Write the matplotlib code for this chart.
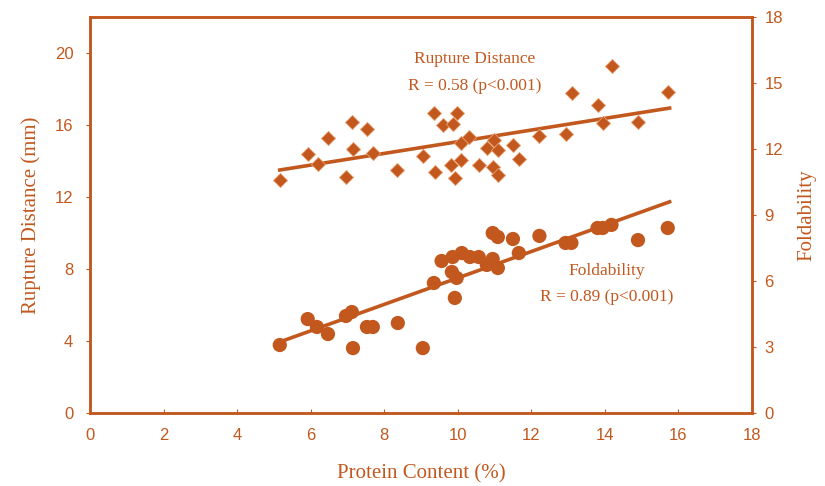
import numpy as np
import matplotlib
matplotlib.use("Agg")
import matplotlib.pyplot as plt

# colour used throughout the figure
clr = "#C2581E"

# ---------------- data ----------------
# Rupture distance (mm), left axis, diamonds
rd_protein = [5.16, 5.92, 6.20, 6.47, 6.96, 7.12, 7.15, 7.53, 7.69, 8.34,
              9.05, 9.35, 9.38, 9.59, 9.86, 9.97, 9.81, 9.92, 10.10, 10.30,
              10.10, 10.57, 10.79, 10.98, 11.09, 10.95, 11.09, 11.50, 11.66, 12.22,
              12.93, 13.11, 13.80, 13.94, 14.18, 14.90, 15.71]
rd_mm = [12.94, 14.39, 13.83, 15.28, 13.11, 16.17, 14.67, 15.78, 14.44, 13.50,
         14.28, 16.67, 13.39, 16.00, 16.06, 16.67, 13.78, 13.06, 15.00, 15.33,
         14.06, 13.78, 14.72, 15.17, 14.61, 13.67, 13.22, 14.89, 14.11, 15.39,
         15.50, 17.78, 17.11, 16.11, 19.28, 16.17, 17.83]

# Foldability, right axis, circles
fd_protein = [5.16, 5.92, 6.17, 6.47, 6.96, 7.12, 7.15, 7.53, 7.69, 8.37,
              9.05, 9.35, 9.56, 9.86, 9.84, 9.97, 9.92, 10.11, 10.33, 10.57,
              10.95, 11.09, 10.79, 10.95, 11.09, 11.50, 11.66, 12.22, 12.93, 13.09,
              13.80, 13.94, 14.18, 14.90, 15.71]
fold = [3.09, 4.27, 3.91, 3.59, 4.41, 4.59, 2.95, 3.91, 3.91, 4.09,
        2.95, 5.91, 6.91, 7.09, 6.41, 6.14, 5.23, 7.27, 7.09, 7.09,
        8.18, 8.00, 6.73, 7.00, 6.59, 7.91, 7.27, 8.05, 7.73, 7.73,
        8.41, 8.41, 8.55, 7.86, 8.41]

# regression lines as drawn in the figure (end points)
fit_x = [5.16, 15.76]
rd_fit = [13.5, 16.94]
fold_fit = [3.23, 9.6]

xticks = list(range(0, 20, 2))
rd_ticks = list(range(0, 24, 4))
fold_ticks = list(range(0, 21, 3))

# ---------------- plot ----------------
fig = plt.figure(figsize=(8.25, 4.86), dpi=100)
ax = fig.add_axes([0.1091, 0.1502, 0.8024, 0.8148])
ax2 = ax.twinx()

ax.plot(fit_x, rd_fit, color=clr, lw=2.6, zorder=2)
ax.scatter(rd_protein, rd_mm, marker="D", s=52, color=clr,
           edgecolors="#E8A070", linewidths=0.6, zorder=3)

ax2.plot(fit_x, fold_fit, color=clr, lw=2.6, zorder=2)
ax2.scatter(fd_protein, fold, marker="o", s=105, color=clr, edgecolors="none", zorder=3)

ax.set_xlim(0, 18)
ax.set_ylim(0, 22)
ax2.set_ylim(0, 18)
ax.set_xticks(xticks)
ax.set_yticks(rd_ticks)
ax2.set_yticks(fold_ticks)

for a in (ax, ax2):
    for s in a.spines.values():
        s.set_color(clr)
        s.set_linewidth(1.8)
ax.tick_params(axis="x", direction="in", length=3, color=clr, pad=11,
               labelcolor=clr, labelsize=12, labelfontfamily="Liberation Sans")
ax.tick_params(axis="y", direction="out", length=3, color=clr, pad=9,
               labelcolor=clr, labelsize=12, labelfontfamily="Liberation Sans")
ax2.tick_params(axis="y", direction="out", length=3, color=clr, pad=6,
                labelcolor=clr, labelsize=12, labelfontfamily="Liberation Sans")

labfont = {"family": "Liberation Serif", "size": 15}
ax.set_xlabel("Protein Content (%)", fontdict=labfont, color=clr, labelpad=15)
ax.set_ylabel("Rupture Distance (mm)", fontdict=labfont, color=clr, labelpad=10)
ax2.set_ylabel("Foldability", fontdict=labfont, color=clr, labelpad=10)

annfont = {"family": "Liberation Serif", "size": 12.5}
ax.text(10.46, 22 * (413 - 59) / 396, "Rupture Distance", fontdict=annfont,
        color=clr, ha="center", va="center")
ax.text(10.46, 22 * (413 - 86) / 396, "R = 0.58 (p<0.001)", fontdict=annfont,
        color=clr, ha="center", va="center")
ax2.text(14.05, 18 * (413 - 271) / 396, "Foldability", fontdict=annfont,
         color=clr, ha="center", va="center")
ax2.text(14.05, 18 * (413 - 297) / 396, "R = 0.89 (p<0.001)", fontdict=annfont,
         color=clr, ha="center", va="center")

fig.savefig("out.png", dpi=100)
